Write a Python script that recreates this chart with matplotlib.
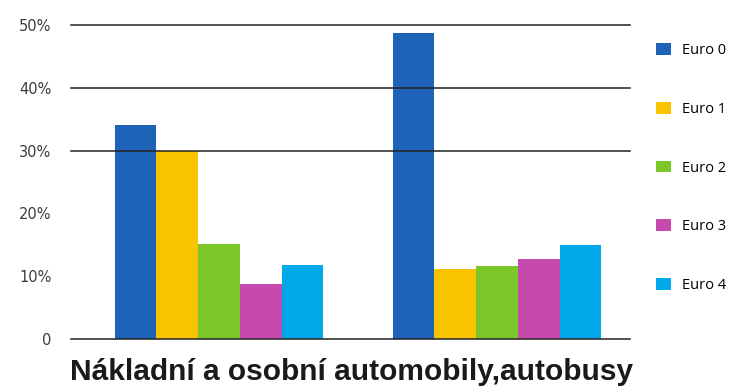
import matplotlib
matplotlib.use('Agg')
import matplotlib.pyplot as plt
from matplotlib.patches import Patch
import numpy as np

# Data
groups = ['Nákladní', 'Osobní']
series = ['Euro 0', 'Euro 1', 'Euro 2', 'Euro 3', 'Euro 4']
values = [
    [34.0, 48.8],   # Euro 0
    [30.0, 11.1],   # Euro 1
    [15.1, 11.7],   # Euro 2
    [8.8, 12.8],    # Euro 3
    [11.8, 15.0],   # Euro 4
]
colors = ['#1f63b9', '#f9c300', '#7dc62a', '#c64aad', '#00a8ea']
yticks = [0, 10, 20, 30, 40, 50]
ytick_labels = ['0', '10%', '20%', '30%', '40%', '50%']
gridlines = [0, 30, 40, 50]
xlabel = 'Nákladní a osobní automobily,autobusy'

fig = plt.figure(figsize=(7.36, 3.86), dpi=100)
ax = fig.add_axes([71 / 736, 1 - 339 / 386, 559 / 736, 314 / 386])

x = np.arange(len(groups))
width = 0.15
for i, (name, vals) in enumerate(zip(series, values)):
    offset = (i - 2) * width
    ax.bar(x + offset, vals, width, color=colors[i], label=name, zorder=2)

for g in gridlines:
    ax.axhline(g, color='#222222', lw=1.1, zorder=3, clip_on=False)

ax.set_xlim(-0.532, 1.478)
ax.set_ylim(0, 50)
ax.set_yticks(yticks)
ax.set_yticklabels(ytick_labels, fontsize=10.5, color='#3c3c3c', family='DejaVu Sans')
ax.tick_params(axis='y', length=0, pad=14)
ax.set_xticks([])
for s in ax.spines.values():
    s.set_visible(False)

fig.text(352 / 736, 1 - 380 / 386, xlabel, ha='center', va='baseline',
         fontsize=21.5, fontweight='bold', family='Liberation Sans', color='#1a1a1a')

handles = [Patch(facecolor=c, edgecolor='none') for c in colors]
fig.legend(handles, series, loc='upper left', bbox_to_anchor=(656 / 736, 1 - 43 / 386),
           frameon=False, labelspacing=3.0, handlelength=1.0,
           handleheight=0.85, handletextpad=0.75, borderpad=0, borderaxespad=0,
           prop={'family': 'Open Sans', 'size': 10.5})

plt.savefig('out.png', dpi=100)
plt.close()
